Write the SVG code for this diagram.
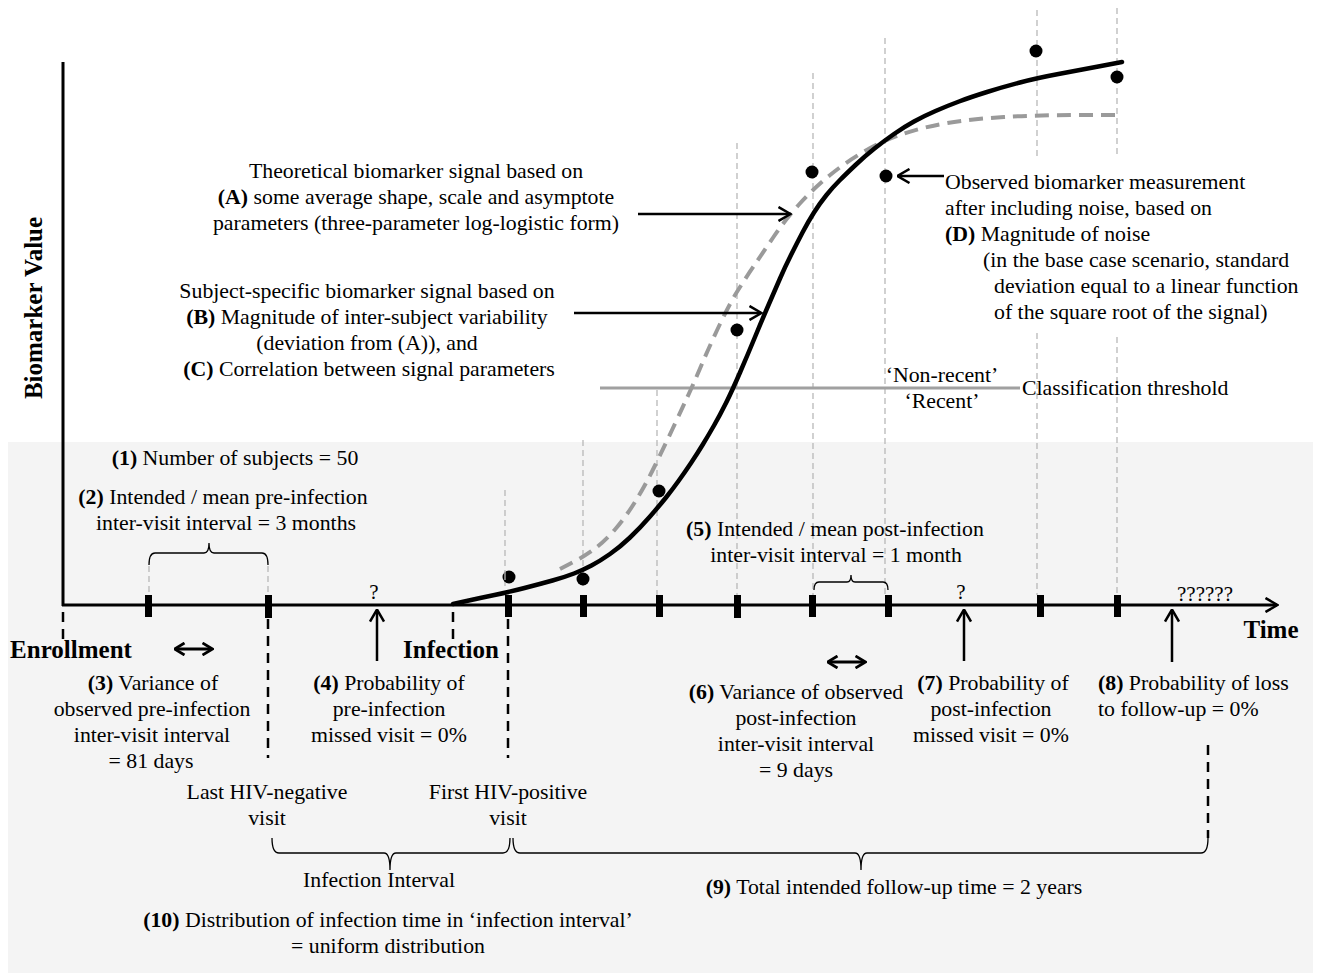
<svg xmlns="http://www.w3.org/2000/svg" width="1326" height="973" viewBox="0 0 1326 973">
<defs>
<style>
.t{font-family:"Liberation Serif","Times New Roman",serif;font-size:21.8px;fill:#000}
.m{text-anchor:middle}
.b{font-weight:bold}
.big{font-family:"Liberation Serif","Times New Roman",serif;font-size:25px;font-weight:bold;fill:#000}
.q{font-family:"Liberation Serif","Times New Roman",serif;font-size:21px;fill:#000;text-anchor:middle}
.gv{stroke:#b8b8b8;stroke-width:1.3;stroke-dasharray:6 4;fill:none}
.kd{stroke:#000;stroke-width:2.5;stroke-dasharray:10 7;fill:none}
.ax{stroke:#000;stroke-width:3;fill:none}
.ar{stroke:#000;stroke-width:2.5;fill:none}
.br{stroke:#000;stroke-width:1.3;fill:none}
.tick{fill:#000}
.dot{fill:#000}
</style>
<marker id="ch" viewBox="0 0 14 16" refX="12.5" refY="8" markerWidth="14" markerHeight="16" markerUnits="userSpaceOnUse" orient="auto-start-reverse">
<path d="M1,1 L13,8 L1,15" fill="none" stroke="#000" stroke-width="2.5"/>
</marker>
<marker id="chs" viewBox="0 0 12 14" refX="10.5" refY="7" markerWidth="12" markerHeight="14" markerUnits="userSpaceOnUse" orient="auto-start-reverse">
<path d="M1,1 L11,7 L1,13" fill="none" stroke="#000" stroke-width="2.8"/>
</marker>
</defs>
<rect x="0" y="0" width="1326" height="973" fill="#fff"/>
<rect id="panel" x="8" y="442" width="1305" height="531" fill="#f4f4f4"/>

<g id="guides">
<line class="gv" x1="149" y1="566" x2="149" y2="595"/>
<line class="gv" x1="268" y1="566" x2="268" y2="595"/>
<line class="gv" x1="505" y1="490" x2="505" y2="588"/>
<line class="gv" x1="583" y1="440" x2="583" y2="590"/>
<line class="gv" x1="657" y1="390" x2="657" y2="595"/>
<line class="gv" x1="737" y1="143" x2="737" y2="595"/>
<line class="gv" x1="813" y1="73" x2="813" y2="595"/>
<line class="gv" x1="885" y1="38" x2="885" y2="595"/>
<line class="gv" x1="1037" y1="10" x2="1037" y2="160"/>
<line class="gv" x1="1037" y1="333" x2="1037" y2="595"/>
<line class="gv" x1="1117" y1="8" x2="1117" y2="157"/>
<line class="gv" x1="1117" y1="337" x2="1117" y2="595"/>
</g>

<g id="threshold">
<line x1="600" y1="388" x2="1020" y2="388" stroke="#a0a0a0" stroke-width="3"/>
<text class="t m" x="942" y="382">‘Non-recent’</text>
<text class="t m" x="942" y="408">‘Recent’</text>
<text class="t" x="1022" y="395">Classification threshold</text>
</g>

<g id="axes">
<line class="ax" x1="63" y1="62" x2="63" y2="606"/>
<line class="ax" x1="62" y1="605" x2="1277" y2="605" marker-end="url(#ch)"/>
<text class="big" transform="translate(42,308) rotate(-90)" text-anchor="middle">Biomarker Value</text>
<text class="big" x="1271" y="638" text-anchor="middle">Time</text>
</g>

<g id="curves">
<path d="M560,569 L572.5,562.5 Q585,556 595,548.5 Q605,541 615,529.5 Q625,518 635,502 Q645,486 655,465.5 Q665,445 672.5,429 Q680,413 686.5,399 Q693,385 701.5,365 Q710,345 720,324 Q730,303 737.5,291 Q745,279 753.5,266.5 Q762,254 773.5,237 Q785,220 799,204.5 Q813,189 829.5,175.5 Q846,162 865,151 Q884,140 904,133.5 Q924,127 947.5,123 Q971,119 1004,117 Q1037,115 1079.5,115 L1122,115" fill="none" stroke="#9a9a9a" stroke-width="4" stroke-dasharray="14 8"/>
<path d="M453,604 L466.5,601 Q480,598 494.5,595 Q509,592 524.5,588 Q540,584 552.5,580.5 Q565,577 574,573.5 Q583,570 591.5,565.5 Q600,561 610,554 Q620,547 630,537.5 Q640,528 650,516.5 Q660,505 666,497.5 Q672,490 678.5,481 Q685,472 691,463 Q697,454 702.5,445 Q708,436 714,425.5 Q720,415 726,403 Q732,391 740,372.5 Q748,354 755,337 Q762,320 768.5,305 Q775,290 780,278.5 Q785,267 791,255 Q797,243 802.5,232.5 Q808,222 814,212.5 Q820,203 826.5,195 Q833,187 839.5,180.5 Q846,174 855.5,165 Q865,156 874.5,148.5 Q884,141 894,134 Q904,127 914,121.5 Q924,116 935.5,111 Q947,106 959,101.5 Q971,97 987,92 Q1003,87 1020,82.5 Q1037,78 1058.5,74 Q1080,70 1101,66 L1122,62" fill="none" stroke="#000" stroke-width="4.5" stroke-linecap="round"/>
</g>

<g id="ticks">
<rect class="tick" x="145" y="595" width="7" height="22"/>
<rect class="tick" x="265" y="595" width="7" height="23"/>
<rect class="tick" x="505" y="595" width="7" height="22"/>
<rect class="tick" x="580" y="595" width="7" height="22"/>
<rect class="tick" x="656" y="595" width="7" height="22"/>
<rect class="tick" x="734" y="595" width="7" height="23"/>
<rect class="tick" x="809" y="595" width="7" height="22"/>
<rect class="tick" x="885" y="595" width="7" height="22"/>
<rect class="tick" x="1037" y="595" width="7" height="22"/>
<rect class="tick" x="1114" y="595" width="7" height="22"/>
</g>

<g id="dots">
<circle class="dot" cx="509" cy="577" r="6.5"/>
<circle class="dot" cx="583" cy="579" r="6.5"/>
<circle class="dot" cx="659" cy="491" r="6.5"/>
<circle class="dot" cx="737" cy="330" r="6.5"/>
<circle class="dot" cx="812" cy="172" r="6.5"/>
<circle class="dot" cx="886" cy="176" r="6.5"/>
<circle class="dot" cx="1036" cy="51" r="6.5"/>
<circle class="dot" cx="1117" cy="77" r="6.5"/>
<line x1="505" y1="571" x2="505" y2="580" stroke="#b8b8b8" stroke-width="1.3"/>
</g>

<g id="connectors">
<line class="ar" x1="638" y1="214" x2="790" y2="214" marker-end="url(#ch)"/>
<line class="ar" x1="574" y1="313" x2="761" y2="313" marker-end="url(#ch)"/>
<line class="ar" x1="944" y1="176" x2="898" y2="176" marker-end="url(#ch)"/>
<line class="ar" x1="377" y1="661" x2="377" y2="610" marker-end="url(#ch)"/>
<line class="ar" x1="964" y1="661" x2="964" y2="610" marker-end="url(#ch)"/>
<line class="ar" x1="1172" y1="662" x2="1172" y2="610" marker-end="url(#ch)"/>
<line x1="175" y1="649" x2="212" y2="649" stroke="#000" stroke-width="2.8" marker-start="url(#chs)" marker-end="url(#chs)"/>
<line x1="828" y1="662" x2="865" y2="662" stroke="#000" stroke-width="2.8" marker-start="url(#chs)" marker-end="url(#chs)"/>
<line class="kd" x1="63" y1="612" x2="63" y2="640"/>
<line class="kd" x1="453" y1="612" x2="453" y2="640"/>
<line class="kd" x1="268" y1="619" x2="268" y2="758"/>
<line class="kd" x1="508" y1="619" x2="508" y2="758"/>
<line class="kd" x1="1208" y1="745" x2="1208" y2="838"/>
<path class="br" d="M149,565 Q149,553 155,553 L204,553 Q209,553 209,543 Q209,553 214,553 L262,553 Q268,553 268,565"/>
<path class="br" d="M814,590 Q814,582 819,582 L847,582 Q851,582 851,575 Q851,582 855,582 L883,582 Q888,582 888,590"/>
<path class="br" d="M272,838 Q272,853 279,853 L384,853 Q390,853 390,870 Q390,853 396,853 L503,853 Q510,853 510,838"/>
<path class="br" d="M513,838 Q513,853 520,853 L855,853 Q861,853 861,870 Q861,853 867,853 L1201,853 Q1208,853 1208,838"/>
</g>

<g id="labelA">
<text class="t m" x="416" y="178">Theoretical biomarker signal based on</text>
<text class="t m" x="416" y="204"><tspan class="b">(A)</tspan> some average shape, scale and asymptote</text>
<text class="t m" x="416" y="230">parameters (three-parameter log-logistic form)</text>
</g>
<g id="labelB">
<text class="t m" x="367" y="298">Subject-specific biomarker signal based on</text>
<text class="t m" x="367" y="324"><tspan class="b">(B)</tspan> Magnitude of inter-subject variability</text>
<text class="t m" x="367" y="350">(deviation from (A)), and</text>
<text class="t m" x="369" y="376"><tspan class="b">(C)</tspan> Correlation between signal parameters</text>
</g>
<g id="labelD">
<text class="t" x="945" y="189">Observed biomarker measurement</text>
<text class="t" x="945" y="215">after including noise, based on</text>
<text class="t" x="945" y="241"><tspan class="b">(D)</tspan> Magnitude of noise</text>
<text class="t" x="983" y="267">(in the base case scenario, standard</text>
<text class="t" x="994" y="293">deviation equal to a linear function</text>
<text class="t" x="994" y="319">of the square root of the signal)</text>
</g>

<g id="label1"><text class="t m" x="235" y="465"><tspan class="b">(1)</tspan> Number of subjects = 50</text></g>
<g id="label2">
<text class="t m" x="223" y="504"><tspan class="b">(2)</tspan> Intended / mean pre-infection</text>
<text class="t m" x="226" y="530">inter-visit interval = 3 months</text>
</g>
<g id="label3">
<text class="t m" x="153" y="690"><tspan class="b">(3)</tspan> Variance of</text>
<text class="t m" x="152" y="716">observed pre-infection</text>
<text class="t m" x="152" y="742">inter-visit interval</text>
<text class="t m" x="151" y="768">= 81 days</text>
</g>
<g id="label4">
<text class="q" x="374" y="599">?</text>
<text class="t m" x="389" y="690"><tspan class="b">(4)</tspan> Probability of</text>
<text class="t m" x="389" y="716">pre-infection</text>
<text class="t m" x="389" y="742">missed visit = 0%</text>
</g>
<g id="enrollment"><text class="big" x="71" y="658" text-anchor="middle">Enrollment</text></g>
<g id="infection"><text class="big" x="451" y="658" text-anchor="middle">Infection</text></g>
<g id="lastneg">
<text class="t m" x="267" y="799">Last HIV-negative</text>
<text class="t m" x="267" y="825">visit</text>
</g>
<g id="firstpos">
<text class="t m" x="508" y="799">First HIV-positive</text>
<text class="t m" x="508" y="825">visit</text>
</g>
<g id="interval"><text class="t m" x="379" y="887">Infection Interval</text></g>
<g id="label9"><text class="t m" x="894" y="894"><tspan class="b">(9)</tspan> Total intended follow-up time = 2 years</text></g>
<g id="label10">
<text class="t m" x="388" y="927"><tspan class="b">(10)</tspan> Distribution of infection time in ‘infection interval’</text>
<text class="t m" x="388" y="953">= uniform distribution</text>
</g>
<g id="label5">
<text class="t m" x="835" y="536"><tspan class="b">(5)</tspan> Intended / mean post-infection</text>
<text class="t m" x="836" y="562">inter-visit interval = 1 month</text>
</g>
<g id="label6">
<text class="t m" x="796" y="699"><tspan class="b">(6)</tspan> Variance of observed</text>
<text class="t m" x="796" y="725">post-infection</text>
<text class="t m" x="796" y="751">inter-visit interval</text>
<text class="t m" x="796" y="777">= 9 days</text>
</g>
<g id="label7">
<text class="q" x="961" y="599">?</text>
<text class="t m" x="993" y="690"><tspan class="b">(7)</tspan> Probability of</text>
<text class="t m" x="991" y="716">post-infection</text>
<text class="t m" x="991" y="742">missed visit = 0%</text>
</g>
<g id="label8">
<text class="q" x="1205" y="601">??????</text>
<text class="t" x="1098" y="690"><tspan class="b">(8)</tspan> Probability of loss</text>
<text class="t" x="1098" y="716">to follow-up = 0%</text>
</g>
</svg>
